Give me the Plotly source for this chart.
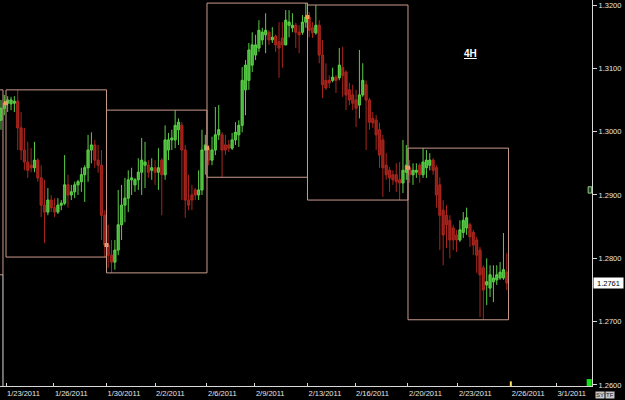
import plotly.graph_objects as go

# ---------------- data (EUR/USD 4H) ----------------
bar_index = list(range(-2, 150))   # sequential 4H bar number, week k = bars 30k..30k+29

opens = [1.3018, 1.3037,
 1.3045, 1.3044, 1.3045, 1.3048, 1.3006, 1.2971, 1.2952, 1.2947, 1.2943, 1.2955,
 1.2927, 1.2884, 1.2873, 1.2892, 1.2880, 1.2873, 1.2884, 1.2887, 1.2916, 1.2900,
 1.2905, 1.2916, 1.2921, 1.2932, 1.2943, 1.2971, 1.2979, 1.2955, 1.2947, 1.2868,
 1.2821, 1.2805, 1.2794, 1.2813, 1.2853, 1.2884, 1.2895, 1.2924, 1.2916, 1.2924,
 1.2936, 1.2947, 1.2947, 1.2939, 1.2943, 1.2936, 1.2955, 1.2932, 1.2971, 1.2987,
 1.2987, 1.3003, 1.3010, 1.2971, 1.2892, 1.2900, 1.2908, 1.2900, 1.2908, 1.2971,
 1.2974, 1.2955, 1.2971, 1.2995, 1.2995, 1.2979, 1.2979, 1.2974, 1.2987, 1.2995,
 1.3010, 1.3066, 1.3081, 1.3105, 1.3121, 1.3132, 1.3145, 1.3153, 1.3157, 1.3145,
 1.3151, 1.3142, 1.3148, 1.3137, 1.3168, 1.3164, 1.3168, 1.3157, 1.3157, 1.3173,
 1.3181, 1.3164, 1.3156, 1.3168, 1.3121, 1.3081, 1.3081, 1.3081, 1.3086, 1.3085,
 1.3101, 1.3094, 1.3066, 1.3058, 1.3050, 1.3042, 1.3058, 1.3074, 1.3050, 1.3021,
 1.3018, 1.3003, 1.2987, 1.2947, 1.2939, 1.2932, 1.2932, 1.2924, 1.2919, 1.2936,
 1.2943, 1.2932, 1.2936, 1.2947, 1.2932, 1.2943, 1.2947, 1.2955, 1.2943, 1.2916,
 1.2876, 1.2868, 1.2860, 1.2848, 1.2837, 1.2829, 1.2841, 1.2848, 1.2853, 1.2841,
 1.2829, 1.2813, 1.2785, 1.2758, 1.2753, 1.2763, 1.2766, 1.2769, 1.2769, 1.2778]

highs = [1.3050, 1.3058,
 1.3056, 1.3055, 1.3056, 1.3066, 1.3031, 1.3006, 1.2984, 1.2974, 1.2984, 1.2958,
 1.2947, 1.2924, 1.2911, 1.2900, 1.2895, 1.2895, 1.2892, 1.2963, 1.2932, 1.2916,
 1.2921, 1.2924, 1.2943, 1.2947, 1.2995, 1.2999, 1.2987, 1.2979, 1.2971, 1.2876,
 1.2853, 1.2829, 1.2829, 1.2908, 1.2916, 1.2927, 1.2939, 1.2943, 1.2927, 1.2958,
 1.2990, 1.2984, 1.2955, 1.2958, 1.2955, 1.2974, 1.2958, 1.3010, 1.2998, 1.3003,
 1.3034, 1.3021, 1.3015, 1.2979, 1.2932, 1.2916, 1.2911, 1.2939, 1.3003, 1.2995,
 1.2979, 1.2992, 1.3039, 1.3042, 1.2999, 1.2995, 1.2987, 1.2998, 1.3015, 1.3018,
 1.3102, 1.3113, 1.3140, 1.3157, 1.3153, 1.3176, 1.3164, 1.3187, 1.3160, 1.3165,
 1.3153, 1.3173, 1.3173, 1.3192, 1.3192, 1.3187, 1.3172, 1.3168, 1.3184, 1.3203,
 1.3189, 1.3173, 1.3200, 1.3176, 1.3145, 1.3108, 1.3089, 1.3101, 1.3089, 1.3132,
 1.3134, 1.3097, 1.3077, 1.3074, 1.3066, 1.3129, 1.3108, 1.3081, 1.3053, 1.3031,
 1.3026, 1.3014, 1.2995, 1.2966, 1.2944, 1.2939, 1.2950, 1.2952, 1.2987, 1.2979,
 1.2955, 1.2950, 1.2950, 1.2950, 1.2974, 1.2971, 1.2966, 1.2958, 1.2947, 1.2928,
 1.2892, 1.2884, 1.2868, 1.2853, 1.2845, 1.2860, 1.2873, 1.2880, 1.2856, 1.2845,
 1.2834, 1.2818, 1.2789, 1.2800, 1.2789, 1.2789, 1.2789, 1.2794, 1.2840, 1.2808]

lows = [1.3003, 1.3026,
 1.3031, 1.3034, 1.3031, 1.2971, 1.2955, 1.2939, 1.2927, 1.2936, 1.2936, 1.2921,
 1.2865, 1.2824, 1.2868, 1.2873, 1.2865, 1.2870, 1.2876, 1.2884, 1.2880, 1.2892,
 1.2895, 1.2900, 1.2905, 1.2889, 1.2921, 1.2950, 1.2943, 1.2935, 1.2829, 1.2802,
 1.2785, 1.2777, 1.2782, 1.2805, 1.2829, 1.2857, 1.2873, 1.2900, 1.2905, 1.2908,
 1.2900, 1.2911, 1.2927, 1.2924, 1.2916, 1.2908, 1.2868, 1.2924, 1.2955, 1.2971,
 1.2974, 1.2979, 1.2892, 1.2864, 1.2876, 1.2876, 1.2892, 1.2892, 1.2900, 1.2932,
 1.2947, 1.2947, 1.2963, 1.2987, 1.2928, 1.2963, 1.2968, 1.2971, 1.2979, 1.2976,
 1.2999, 1.3026, 1.3066, 1.3094, 1.3113, 1.3126, 1.3137, 1.3124, 1.3137, 1.3140,
 1.3126, 1.3085, 1.3101, 1.3137, 1.3149, 1.3157, 1.3132, 1.3124, 1.3153, 1.3164,
 1.3149, 1.3148, 1.3153, 1.3108, 1.3053, 1.3066, 1.3069, 1.3078, 1.3061, 1.3081,
 1.3055, 1.3034, 1.3042, 1.3034, 1.3007, 1.3021, 1.3055, 1.2971, 1.3003, 1.3006,
 1.2971, 1.2943, 1.2897, 1.2924, 1.2905, 1.2916, 1.2905, 1.2892, 1.2903, 1.2924,
 1.2919, 1.2916, 1.2927, 1.2919, 1.2927, 1.2927, 1.2939, 1.2932, 1.2880, 1.2813,
 1.2789, 1.2816, 1.2800, 1.2813, 1.2810, 1.2826, 1.2832, 1.2837, 1.2818, 1.2805,
 1.2777, 1.2707, 1.2703, 1.2726, 1.2739, 1.2731, 1.2758, 1.2766, 1.2766, 1.2750]

closes = [1.3037, 1.3045,
 1.3050, 1.3050, 1.3048, 1.3006, 1.2971, 1.2952, 1.2939, 1.2943, 1.2955, 1.2927,
 1.2884, 1.2873, 1.2892, 1.2880, 1.2873, 1.2884, 1.2887, 1.2916, 1.2900, 1.2905,
 1.2916, 1.2921, 1.2932, 1.2943, 1.2971, 1.2979, 1.2955, 1.2947, 1.2868, 1.2821,
 1.2805, 1.2794, 1.2813, 1.2853, 1.2884, 1.2895, 1.2924, 1.2927, 1.2924, 1.2936,
 1.2955, 1.2952, 1.2936, 1.2943, 1.2936, 1.2943, 1.2932, 1.2987, 1.2987, 1.2990,
 1.3010, 1.3015, 1.2971, 1.2892, 1.2884, 1.2892, 1.2900, 1.2908, 1.2971, 1.2979,
 1.2955, 1.2971, 1.2995, 1.3003, 1.2971, 1.2971, 1.2974, 1.2987, 1.2999, 1.3010,
 1.3081, 1.3105, 1.3129, 1.3137, 1.3137, 1.3160, 1.3157, 1.3160, 1.3145, 1.3149,
 1.3137, 1.3132, 1.3137, 1.3176, 1.3173, 1.3168, 1.3157, 1.3153, 1.3173, 1.3181,
 1.3160, 1.3156, 1.3168, 1.3121, 1.3074, 1.3069, 1.3077, 1.3086, 1.3081, 1.3105,
 1.3089, 1.3058, 1.3050, 1.3045, 1.3037, 1.3058, 1.3081, 1.3050, 1.3015, 1.3014,
 1.2995, 1.2963, 1.2943, 1.2932, 1.2927, 1.2924, 1.2921, 1.2919, 1.2939, 1.2947,
 1.2932, 1.2939, 1.2939, 1.2932, 1.2952, 1.2955, 1.2955, 1.2939, 1.2900, 1.2868,
 1.2837, 1.2853, 1.2829, 1.2829, 1.2829, 1.2845, 1.2860, 1.2864, 1.2834, 1.2821,
 1.2805, 1.2774, 1.2750, 1.2763, 1.2774, 1.2769, 1.2774, 1.2778, 1.2782, 1.2761]

bars_per_week = 30
n_weeks = 5
prev_week_high = 1.3066
prev_week_low = 1.2774
axis_marker_price = 1.2908   # small platform marker on the price axis

x_tick_pos = [-0.5, 13.8, 29.5, 44.0, 59.5, 73.8, 89.5, 103.7, 119.5, 134.4, 150.2, 163.8]
x_tick_text = ["1/23/2011", "1/26/2011", "1/30/2011", "2/2/2011", "2/6/2011", "2/9/2011",
               "2/13/2011", "2/16/2011", "2/20/2011", "2/23/2011", "2/26/2011", "3/1/2011"]
y_tick_vals = [1.26, 1.27, 1.28, 1.29, 1.30, 1.31, 1.32]
y_tick_text = ["1.2600", "1.2700", "1.2800", "1.2900", "1.3000", "1.3100", "1.3200"]

X_RANGE = [-2.29, 174.43]
Y_RANGE = [1.25984, 1.32079]

BOX_COLOR = "#c99a8a"
AXIS_COLOR = "#d8d8d8"
FONT = "Liberation Sans"
UP_LINE, UP_FILL = "#5ccc48", "#34a82e"
DN_LINE, DN_FILL = "#a8261e", "#861a14"

fig = go.Figure()

# wicks (candlestick trace)
fig.add_trace(go.Candlestick(
    x=bar_index, open=opens, high=highs, low=lows, close=closes,
    increasing=dict(line=dict(color=UP_LINE, width=1), fillcolor=UP_FILL),
    decreasing=dict(line=dict(color=DN_LINE, width=1), fillcolor=DN_FILL),
    whiskerwidth=0, showlegend=False, hoverinfo="skip",
))

# wider bodies
up = [c >= o for o, c in zip(opens, closes)]
fig.add_trace(go.Bar(
    x=bar_index,
    y=[abs(c - o) for o, c in zip(opens, closes)],
    base=[min(o, c) for o, c in zip(opens, closes)],
    width=0.72,
    marker=dict(color=[UP_FILL if u else DN_FILL for u in up],
                line=dict(color=[UP_LINE if u else DN_LINE for u in up], width=0.6)),
    showlegend=False, hoverinfo="skip",
))

# weekly range boxes + weekly open markers
shapes = []
mk_x, mk_y = [], []
for k in range(n_weeks):
    i0 = 2 + k * bars_per_week
    i1 = i0 + bars_per_week
    hi = max(highs[i0:i1])
    lo = min(lows[i0:i1])
    x0 = bar_index[i0] - 0.5
    x1 = bar_index[i1 - 1] + 0.5
    shapes.append(dict(type="rect", xref="x", yref="y", x0=x0, x1=x1, y0=lo, y1=hi,
                       line=dict(color=BOX_COLOR, width=1), fillcolor="rgba(0,0,0,0)", layer="above"))
    mk_x.append(x0)
    mk_y.append(opens[i0])

# previous (partial) week's box on the left edge
shapes.append(dict(type="rect", xref="x", yref="y", x0=-4, x1=-1.4, y0=prev_week_low, y1=prev_week_high,
                   line=dict(color=BOX_COLOR, width=1), fillcolor="rgba(0,0,0,0)"))
shapes.append(dict(type="line", xref="x", yref="y", x0=-1.4, x1=-1.4, y0=Y_RANGE[0], y1=prev_week_low,
                   line=dict(color=AXIS_COLOR, width=1)))

fig.add_trace(go.Scatter(x=mk_x, y=mk_y, mode="markers",
                         marker=dict(symbol="square", size=4, color="#f5a04a"),
                         showlegend=False, hoverinfo="skip"))

# small decorations of the platform
shapes.append(dict(type="rect", xref="paper", yref="paper", x0=0.991, x1=0.9995, y0=0.0, y1=0.018,
                   fillcolor="#18e018", line=dict(width=0)))
shapes.append(dict(type="line", xref="x", yref="paper", x0=x_tick_pos[10], x1=x_tick_pos[10], y0=0, y1=0.012,
                   line=dict(color="#ffe060", width=2)))
shapes.append(dict(type="rect", xref="paper", yref="y", x0=0.9935, x1=0.9995,
                   y0=axis_marker_price - 0.0005, y1=axis_marker_price + 0.0005,
                   fillcolor="#1e3a1e", line=dict(color="#9ad08a", width=1)))

last_close = closes[-1]

annotations = [
    dict(text="<b><u>4H</u></b>", x=0.8086, y=0.8805, xref="paper", yref="paper",
         showarrow=False, font=dict(family=FONT, size=10, color="white")),
    dict(text=f"{last_close:.4f}", x=1, xref="paper", y=last_close, yref="y",
         xanchor="left", yanchor="middle", xshift=1, showarrow=False, width=29, height=10,
         bgcolor="white", borderpad=0, font=dict(family=FONT, size=7.5, color="black")),
    dict(text="SY", x=1, xref="paper", y=0, yref="paper", xanchor="left", yanchor="top",
         xshift=3, yshift=-5, showarrow=False, bgcolor="#c8c8c8", borderpad=0,
         font=dict(family=FONT, size=6, color="#222")),
    dict(text="TF", x=1, xref="paper", y=0, yref="paper", xanchor="left", yanchor="top",
         xshift=13, yshift=-5, showarrow=False, bgcolor="#c8c8c8", borderpad=0,
         font=dict(family=FONT, size=6, color="#222")),
]

fig.update_layout(
    width=625, height=400,
    margin=dict(l=0, r=33, t=0, b=14),
    paper_bgcolor="black", plot_bgcolor="black",
    showlegend=False, barmode="overlay",
    shapes=shapes, annotations=annotations,
    font=dict(family=FONT, size=7.5, color="#e6e6e6"),
    xaxis=dict(range=X_RANGE, rangeslider=dict(visible=False), showgrid=False, zeroline=False,
               showline=True, linecolor=AXIS_COLOR, linewidth=1,
               tickmode="array", tickvals=x_tick_pos, ticktext=x_tick_text,
               ticks="inside", ticklen=3, tickcolor=AXIS_COLOR,
               ticklabelposition="outside right",
               tickfont=dict(family=FONT, size=7.5, color="#e6e6e6")),
    yaxis=dict(range=Y_RANGE, side="right", showgrid=False, zeroline=False,
               showline=True, linecolor=AXIS_COLOR, linewidth=1,
               tickmode="array", tickvals=y_tick_vals, ticktext=y_tick_text,
               ticks="outside", ticklen=4, tickcolor=AXIS_COLOR,
               tickfont=dict(family=FONT, size=7.5, color="#e6e6e6")),
)

fig.write_html("out.html")
